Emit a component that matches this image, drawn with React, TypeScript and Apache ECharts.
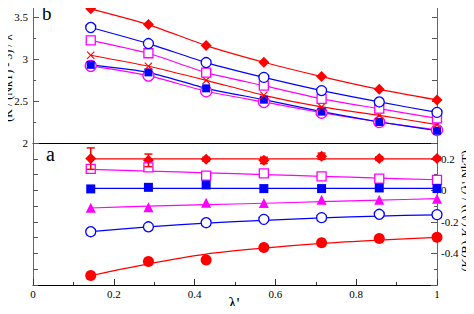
import React, { useEffect, useRef } from "react";
import * as echarts from "echarts";

const xs = [0.1429, 0.2857, 0.4286, 0.5714, 0.7143, 0.8571, 1.0];

// Panel b (top)
const bRedDiamond = [3.595, 3.408, 3.158, 2.96, 2.79, 2.638, 2.512];
const bBlueCircle = [3.373, 3.182, 2.956, 2.78, 2.623, 2.488, 2.364];
const bMagSquare = [3.221, 3.067, 2.837, 2.682, 2.524, 2.408, 2.293];
const bRedCross = [3.043, 2.912, 2.745, 2.567, 2.429, 2.329, 2.218];
const bBlueSquare = [2.929, 2.84, 2.65, 2.515, 2.373, 2.25, 2.146];
const bMagCircle = [2.917, 2.801, 2.615, 2.488, 2.36, 2.25, 2.155];

// Panel a (bottom) points
const aRedDiamond = [0.201, 0.19, 0.197, 0.19, 0.216, 0.201, 0.201];
const aRedDiamondErr = [0.068, 0.04, 0.012, 0.02, 0.02, 0.012, 0.01];
const aMagSquare = [0.136, 0.146, 0.093, 0.108, 0.089, 0.074, 0.066];
const aBlueSquare = [0.009, 0.019, 0.034, 0.011, 0.011, 0.015, 0.011];
const aMagTriangle = [-0.11, -0.108, -0.078, -0.08, -0.059, -0.059, -0.053];
const aBlueCircle = [-0.262, -0.231, -0.205, -0.184, -0.173, -0.152, -0.154];
const aRedCircle = [-0.54, -0.451, -0.442, -0.362, -0.332, -0.305, -0.298];

// Panel a fitted lines
const fitRedDiamond = [0.2, 0.2, 0.2, 0.2, 0.2, 0.2, 0.2];
const fitMagSquare = [0.133, 0.122, 0.111, 0.1, 0.089, 0.078, 0.067];
const fitBlueSquare = [0.012, 0.012, 0.012, 0.012, 0.012, 0.012, 0.012];
const fitMagTriangle = [-0.112, -0.1, -0.091, -0.082, -0.072, -0.062, -0.053];
const fitBlueCircle = [-0.262, -0.232, -0.208, -0.19, -0.175, -0.163, -0.155];
const fitRedCircle = [-0.54, -0.466, -0.404, -0.366, -0.336, -0.315, -0.298];

// Tick labels
const xTickValues = [0, 0.2, 0.4, 0.6, 0.8, 1];
const xTickLabels = ["0", "0.2", "0.4", "0.6", "0.8", "1"];
const yTopTickValues = [2, 2.5, 3, 3.5];
const yTopTickLabels = ["2", "2.5", "3", "3.5"];
const yBotTickValues = [0.2, 0, -0.2, -0.4];
const yBotTickLabels = ["0.2", "0", "-0.2", "-0.4"];

const RED = "#ff0000";
const BLUE = "#0000ff";
const MAG = "#ff00ff";
const FONT = "Liberation Serif";

const CROSS = "path://M0,1 L1,0 L5,4 L9,0 L10,1 L6,5 L10,9 L9,10 L5,6 L1,10 L0,9 L4,5Z";

const pts = (ys: number[]) => xs.map((x, i) => [x, ys[i]]);

export default function App() {
  const ref = useRef<HTMLDivElement>(null);
  useEffect(() => {
    if (!ref.current) return;
    const chart = echarts.init(ref.current, undefined, { renderer: "svg" });

    const topLine = (ys: number[], color: string, symbol: string, size: number, open: boolean) => ({
      type: "line",
      xAxisIndex: 0,
      yAxisIndex: 0,
      data: pts(ys),
      smooth: 0.2,
      symbol,
      symbolSize: size,
      lineStyle: { color, width: 1.2 },
      itemStyle: open
        ? { color: "#ffffff", borderColor: color, borderWidth: 1.3 }
        : { color, borderWidth: 0 },
      z: 3,
    });

    const botFit = (ys: number[], color: string) => ({
      type: "line",
      xAxisIndex: 1,
      yAxisIndex: 2,
      data: pts(ys),
      smooth: 0.3,
      showSymbol: false,
      symbol: "none",
      lineStyle: { color, width: 1.2 },
      z: 2,
    });

    const botPts = (ys: number[], color: string, symbol: string, size: number, open: boolean) => ({
      type: "scatter",
      xAxisIndex: 1,
      yAxisIndex: 2,
      data: pts(ys),
      symbol,
      symbolSize: size,
      itemStyle: open
        ? { color: "#ffffff", borderColor: color, borderWidth: 1.3, opacity: 1 }
        : { color, borderWidth: 0, opacity: 1 },
      z: 4,
    });

    chart.setOption({
      animation: false,
      backgroundColor: "#ffffff",
      grid: [
        { left: 33, width: 404, top: 0, height: 143 },
        { left: 33, width: 404, top: 143, height: 142 },
      ],
      xAxis: [
        {
          gridIndex: 0,
          type: "value",
          min: 0,
          max: 1,
          interval: 0.2,
          axisLine: { show: true, lineStyle: { color: "#000", width: 1 } },
          axisTick: { show: false },
          axisLabel: { show: false },
          splitLine: { show: false },
        },
        {
          gridIndex: 1,
          type: "value",
          min: 0,
          max: 1,
          interval: 0.2,
          axisLine: { show: true, onZero: false, lineStyle: { color: "#000", width: 1 } },
          axisTick: { show: true, inside: true, length: 6, lineStyle: { color: "#333" } },
          minorTick: { show: true, splitNumber: 2, length: 3, lineStyle: { color: "#333" } },
          axisLabel: { show: false },
          splitLine: { show: false },
        },
      ],
      yAxis: [
        {
          gridIndex: 0,
          type: "value",
          position: "left",
          min: 2,
          max: 3.7,
          interval: 0.5,
          axisLine: { show: true, onZero: false, lineStyle: { color: "#666", width: 1 } },
          axisTick: { show: true, inside: true, length: 6, lineStyle: { color: "#555" } },
          minorTick: { show: true, splitNumber: 2, length: 3, lineStyle: { color: "#555" } },
          axisLabel: { show: false },
          splitLine: { show: false },
        },
        {
          gridIndex: 0,
          type: "value",
          position: "right",
          min: 2,
          max: 3.7,
          interval: 0.25,
          axisLine: { show: true, onZero: false, lineStyle: { color: "#666", width: 1 } },
          axisTick: { show: true, inside: true, length: 5, lineStyle: { color: "#555" } },
          axisLabel: { show: false },
          splitLine: { show: false },
        },
        {
          gridIndex: 1,
          type: "value",
          position: "left",
          min: -0.6,
          max: 0.3,
          interval: 0.1,
          axisLine: { show: true, onZero: false, lineStyle: { color: "#666", width: 1 } },
          axisTick: { show: true, inside: true, length: 5, lineStyle: { color: "#555" } },
          axisLabel: { show: false },
          splitLine: { show: false },
        },
        {
          gridIndex: 1,
          type: "value",
          position: "right",
          min: -0.6,
          max: 0.3,
          interval: 0.2,
          axisLine: { show: true, onZero: false, lineStyle: { color: "#666", width: 1 } },
          axisTick: { show: true, inside: true, length: 6, lineStyle: { color: "#555" } },
          minorTick: { show: true, splitNumber: 2, length: 3, lineStyle: { color: "#555" } },
          axisLabel: { show: false },
          splitLine: { show: false },
        },
      ],
      series: [
        topLine(bMagCircle, MAG, "circle", 11, true),
        topLine(bBlueSquare, BLUE, "rect", 8, false),
        topLine(bRedCross, RED, CROSS, 8, false),
        topLine(bMagSquare, MAG, "rect", 9, true),
        topLine(bBlueCircle, BLUE, "circle", 10, true),
        topLine(bRedDiamond, RED, "diamond", 11, false),

        botFit(fitRedDiamond, RED),
        botFit(fitMagSquare, MAG),
        botFit(fitBlueSquare, BLUE),
        botFit(fitMagTriangle, MAG),
        botFit(fitBlueCircle, BLUE),
        botFit(fitRedCircle, RED),

        {
          type: "custom",
          xAxisIndex: 1,
          yAxisIndex: 2,
          data: xs.map((x, i) => [x, aRedDiamond[i] - aRedDiamondErr[i], aRedDiamond[i] + aRedDiamondErr[i]]),
          encode: { x: 0, y: [1, 2] },
          z: 5,
          renderItem: (params: any, api: any) => {
            const x = api.value(0);
            const lo = api.coord([x, api.value(1)]);
            const hi = api.coord([x, api.value(2)]);
            const cw = 4;
            const style = { stroke: RED, lineWidth: 1.5 };
            return {
              type: "group",
              children: [
                { type: "line", shape: { x1: lo[0], y1: lo[1], x2: hi[0], y2: hi[1] }, style },
                { type: "line", shape: { x1: hi[0] - cw, y1: hi[1], x2: hi[0] + cw, y2: hi[1] }, style },
                { type: "line", shape: { x1: lo[0] - cw, y1: lo[1], x2: lo[0] + cw, y2: lo[1] }, style },
              ],
            };
          },
        },
        botPts(aRedDiamond, RED, "diamond", 11, false),
        botPts(aMagSquare, MAG, "rect", 9, true),
        botPts(aBlueSquare, BLUE, "rect", 9, false),
        botPts(aMagTriangle, MAG, "triangle", 10, false),
        botPts(aBlueCircle, BLUE, "circle", 10, true),
        botPts(aRedCircle, RED, "circle", 11, false),
      ],
    });

    const tickText = (text: string, x: number, y: number, align: string) => ({
      type: "text",
      x,
      y,
      silent: true,
      style: { text, fontFamily: FONT, fontSize: 11, fill: "#000", align, verticalAlign: "middle" },
    });

    const xLabelY = (chart.convertToPixel({ gridIndex: 1 }, [0, -0.6]) as number[])[1] + 9;
    const leftX = (chart.convertToPixel({ gridIndex: 0 }, [0, 2]) as number[])[0] - 5;
    const rightX = (chart.convertToPixel({ gridIndex: 1 }, [1, 0]) as number[])[0] + 4;

    const graphics: any[] = [
      ...xTickValues.map((v, i) =>
        tickText(xTickLabels[i], chart.convertToPixel({ xAxisIndex: 1 }, v) as number, xLabelY, "center")
      ),
      ...yTopTickValues.map((v, i) =>
        tickText(yTopTickLabels[i], leftX, chart.convertToPixel({ yAxisIndex: 0 }, v) as number, "right")
      ),
      ...yBotTickValues.map((v, i) =>
        tickText(yBotTickLabels[i], rightX, chart.convertToPixel({ yAxisIndex: 3 }, v) as number, "left")
      ),
      {
        type: "text",
        x: 42,
        y: 13,
        style: { text: "b", fontFamily: FONT, fontSize: 19, fill: "#000", align: "left", verticalAlign: "middle" },
      },
      {
        type: "text",
        x: 46,
        y: 154,
        style: { text: "a", fontFamily: FONT, fontSize: 20, fill: "#000", align: "left", verticalAlign: "middle" },
      },
      {
        type: "text",
        x: 8,
        y: 77,
        rotation: Math.PI / 2,
        style: {
          text: "(K / (NkT) - 3) / λ'",
          fontFamily: FONT,
          fontSize: 12,
          fill: "#000",
          align: "center",
          verticalAlign: "middle",
        },
      },
      {
        type: "text",
        x: 465,
        y: 211,
        rotation: Math.PI / 2,
        style: {
          text: "(K(B)-K(A)) / (λ' NkT)",
          fontFamily: FONT,
          fontSize: 13,
          fill: "#000",
          align: "center",
          verticalAlign: "middle",
        },
      },
      {
        type: "text",
        x: 234,
        y: 303,
        style: { text: "λ'", fontFamily: FONT, fontSize: 17, fill: "#000", align: "center", verticalAlign: "middle" },
      },
    ];

    chart.setOption({ graphic: graphics });
    return () => chart.dispose();
  }, []);
  return <div ref={ref} style={{ width: 474, height: 314, margin: -8 }} />;
}
